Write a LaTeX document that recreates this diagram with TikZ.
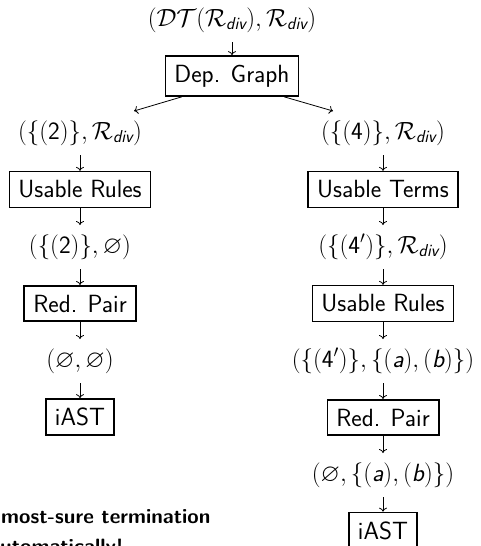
\documentclass[tikz,border=0pt]{standalone}
\usepackage{amsmath,amssymb}
\usetikzlibrary{arrows.meta}
\DeclareMathSizes{24.88}{24.88}{17.28}{12}
\newcommand{\dvsub}{\textsf{\itshape div}}
\newcommand{\Rd}{\mathcal{R}_{\dvsub}}
\newcommand{\sfn}[1]{\textsf{#1}}
\newcommand{\sfv}[1]{\textsf{\itshape #1}}
\begin{document}
\begin{tikzpicture}[x=1pt,y=-1pt,
  every node/.style={font=\sffamily\fontsize{24.88}{29}\selectfont},
  proc/.style={draw,line width=1.6pt,inner sep=9pt},
  term/.style={inner sep=0pt,text height=18pt,text depth=6pt,outer ysep=10pt,outer xsep=0pt},
  flow/.style={-{To[length=4pt,width=8pt]},line width=0.8pt},
  note/.style={font=\sffamily\bfseries\fontsize{20.7}{25}\selectfont,anchor=base west,inner sep=0pt}]
\useasboundingbox (0,0) rectangle (480,546);
\clip (0,0) rectangle (480,546);
% top
\node[term] (top) at (232,20) {$(\mathcal{DT}(\Rd),\Rd)$};
\node[proc] (dg) at (232,76) {Dep. Graph};
% left column
\node[term] (l1) at (80,133) {$(\{(\sfn{2})\},\Rd)$};
\node[proc] (lur) at (80,189.5) {Usable Rules};
\node[term] (l2) at (80,247) {$(\{(\sfn{2})\},\varnothing)$};
\node[proc] (lrp) at (80,303.5) {Red. Pair};
\node[term] (l3) at (80,361) {$(\varnothing,\varnothing)$};
\node[proc] (liast) at (80,417) {iAST};
% right column
\node[term] (r1) at (383,133) {$(\{(\sfn{4})\},\Rd)$};
\node[proc] (rut) at (383,189.5) {Usable Terms};
\node[term] (r2) at (383,247) {$(\{(\sfn{4}')\},\Rd)$};
\node[proc] (rur) at (383,303.5) {Usable Rules};
\node[term] (r3) at (383,361) {$(\{(\sfn{4}')\},\{(\sfv{a}),(\sfv{b})\})$};
\node[proc] (rrp) at (383,417.5) {Red. Pair};
\node[term] (r4) at (383,475) {$(\varnothing,\{(\sfv{a}),(\sfv{b})\})$};
\node[proc] (riast) at (383,530.5) {iAST};
% connectors
\draw[flow] (top) -- (dg);
\draw[flow] ([xshift=17pt]dg.south west) -- ([xshift=-8pt]l1.north east);
\draw[flow] ([xshift=-15pt]dg.south east) -- ([xshift=12pt]r1.north west);
\draw[flow] (l1) -- (lur);
\draw[flow] (lur) -- (l2);
\draw[flow] (l2) -- (lrp);
\draw[flow] (lrp) -- (l3);
\draw[flow] (l3) -- (liast);
\draw[flow] (r1) -- (rut);
\draw[flow] (rut) -- (r2);
\draw[flow] (r2) -- (rur);
\draw[flow] (rur) -- (r3);
\draw[flow] (r3) -- (rrp);
\draw[flow] (rrp) -- (r4);
\draw[flow] (r4) -- (riast);
% partially visible text
\node[note] (n1) at (1,523) {most-sure termination};
\node[note] (n2) at (0,553) {utomatically!};
\end{tikzpicture}
\end{document}
